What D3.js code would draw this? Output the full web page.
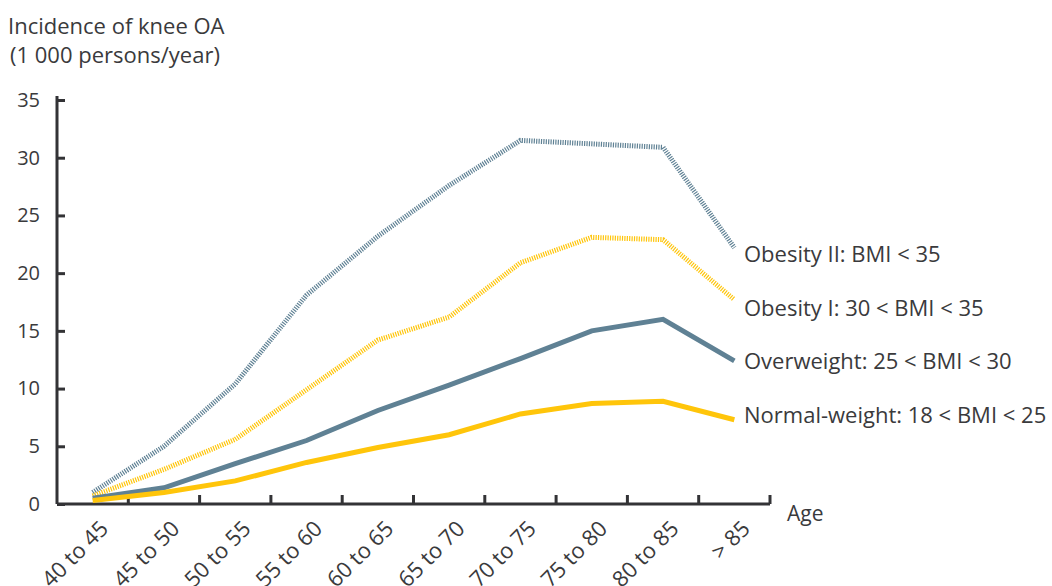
<!DOCTYPE html>
<html lang="en">
<head>
<meta charset="UTF-8">
<title>Incidence of knee OA</title>
<script src="https://d3js.org/d3.v7.min.js"></script>
<style>
    body { margin: 0; background: #fff; }
    text { font-family: 'Open Sans', sans-serif; fill: #3a3a3c; }
    .axis path, .axis line { stroke: #333336; }
</style>
</head>
<body>
<script>
    const width = 1052;
    const height = 586;

    const ageGroups = ['40 to 45', '45 to 50', '50 to 55', '55 to 60', '60 to 65',
                       '65 to 70', '70 to 75', '75 to 80', '80 to 85', '> 85'];
    const yTicks = [0, 5, 10, 15, 20, 25, 30, 35];

    const obesity2 = [1.0, 5.0, 10.4, 18.1, 23.2, 27.6, 31.5, 31.2, 30.9, 22.2];
    const obesity1 = [0.7, 3.0, 5.6, 9.9, 14.2, 16.2, 20.9, 23.1, 22.9, 17.7];
    const overweight = [0.5, 1.4, 3.5, 5.5, 8.1, 10.3, 12.6, 15.0, 16.0, 12.4];
    const normalWeight = [0.3, 1.0, 2.0, 3.6, 4.9, 6.0, 7.8, 8.7, 8.9, 7.3];

    const blue = '#5f8194';
    const yellow = '#ffc50a';

    const series = [
        {name: 'Obesity II: BMI < 35', values: obesity2, colour: blue, dotted: true, labelY: 262},
        {name: 'Obesity I: 30 < BMI < 35', values: obesity1, colour: yellow, dotted: true, labelY: 316},
        {name: 'Overweight: 25 < BMI < 30', values: overweight, colour: blue, dotted: false, labelY: 369},
        {name: 'Normal-weight: 18 < BMI < 25', values: normalWeight, colour: yellow, dotted: false, labelY: 423}
    ];

    const svg = d3.select('body').append('svg')
        .attr('width', width)
        .attr('height', height);

    const x = d3.scaleBand()
        .domain(ageGroups)
        .range([57, 770]);

    const y = d3.scaleLinear()
        .domain([0, 35])
        .range([504, 100]);

    // axis title
    svg.append('text')
        .attr('x', 8)
        .attr('y', 34)
        .style('font-size', '22px')
        .text('Incidence of knee OA');
    svg.append('text')
        .attr('x', 10)
        .attr('y', 63)
        .style('font-size', '22px')
        .text('(1 000 persons/year)');

    // y axis
    const yAxis = svg.append('g')
        .attr('class', 'axis')
        .attr('transform', 'translate(57,0)')
        .call(d3.axisRight(y).tickValues(yTicks).tickSize(8).tickSizeOuter(0));
    yAxis.select('.domain').attr('d', 'M0,' + (y(35) - 4) + 'V' + y(0)).style('stroke-width', '3px');
    yAxis.selectAll('.tick line').style('stroke-width', '3px');
    yAxis.selectAll('.tick text')
        .attr('x', -17)
        .attr('text-anchor', 'end')
        .style('font-size', '20px');

    // x axis, ticks sit on the band edges
    const xAxis = svg.append('g')
        .attr('class', 'axis')
        .attr('transform', 'translate(0,' + y(0) + ')');
    xAxis.append('path')
        .attr('d', 'M57,0H' + x.range()[1])
        .style('stroke', '#333336')
        .style('stroke-width', '3px');
    xAxis.selectAll('.edge')
        .data(ageGroups)
        .join('line')
        .attr('class', 'edge')
        .attr('x1', d => x(d) + x.bandwidth())
        .attr('x2', d => x(d) + x.bandwidth())
        .attr('y1', 0)
        .attr('y2', -9)
        .style('stroke', '#333336')
        .style('stroke-width', '3px');
    xAxis.selectAll('.lab')
        .data(ageGroups)
        .join('text')
        .attr('class', 'lab')
        .attr('text-anchor', 'end')
        .attr('transform', d => 'translate(' + (x(d) + x.bandwidth() / 2 + 17) + ',26) rotate(-45)')
        .style('font-size', '22px')
        .text(d => d);

    svg.append('text')
        .attr('x', 787)
        .attr('y', 521)
        .style('font-size', '21px')
        .text('Age');

    const line = d3.line()
        .x((d, i) => x(ageGroups[i]) + x.bandwidth() / 2)
        .y(d => y(d));

    svg.selectAll('.series')
        .data(series)
        .join('path')
        .attr('class', 'series')
        .attr('d', d => line(d.values))
        .style('fill', 'none')
        .style('stroke', d => d.colour)
        .style('stroke-width', '5px')
        .style('stroke-dasharray', d => d.dotted ? '1.2,1.2' : null)
        .style('stroke-linejoin', 'miter');

    svg.selectAll('.legend')
        .data(series)
        .join('text')
        .attr('class', 'legend')
        .attr('x', 744)
        .attr('y', d => d.labelY)
        .style('font-size', '22px')
        .text(d => d.name);
</script>
</body>
</html>
